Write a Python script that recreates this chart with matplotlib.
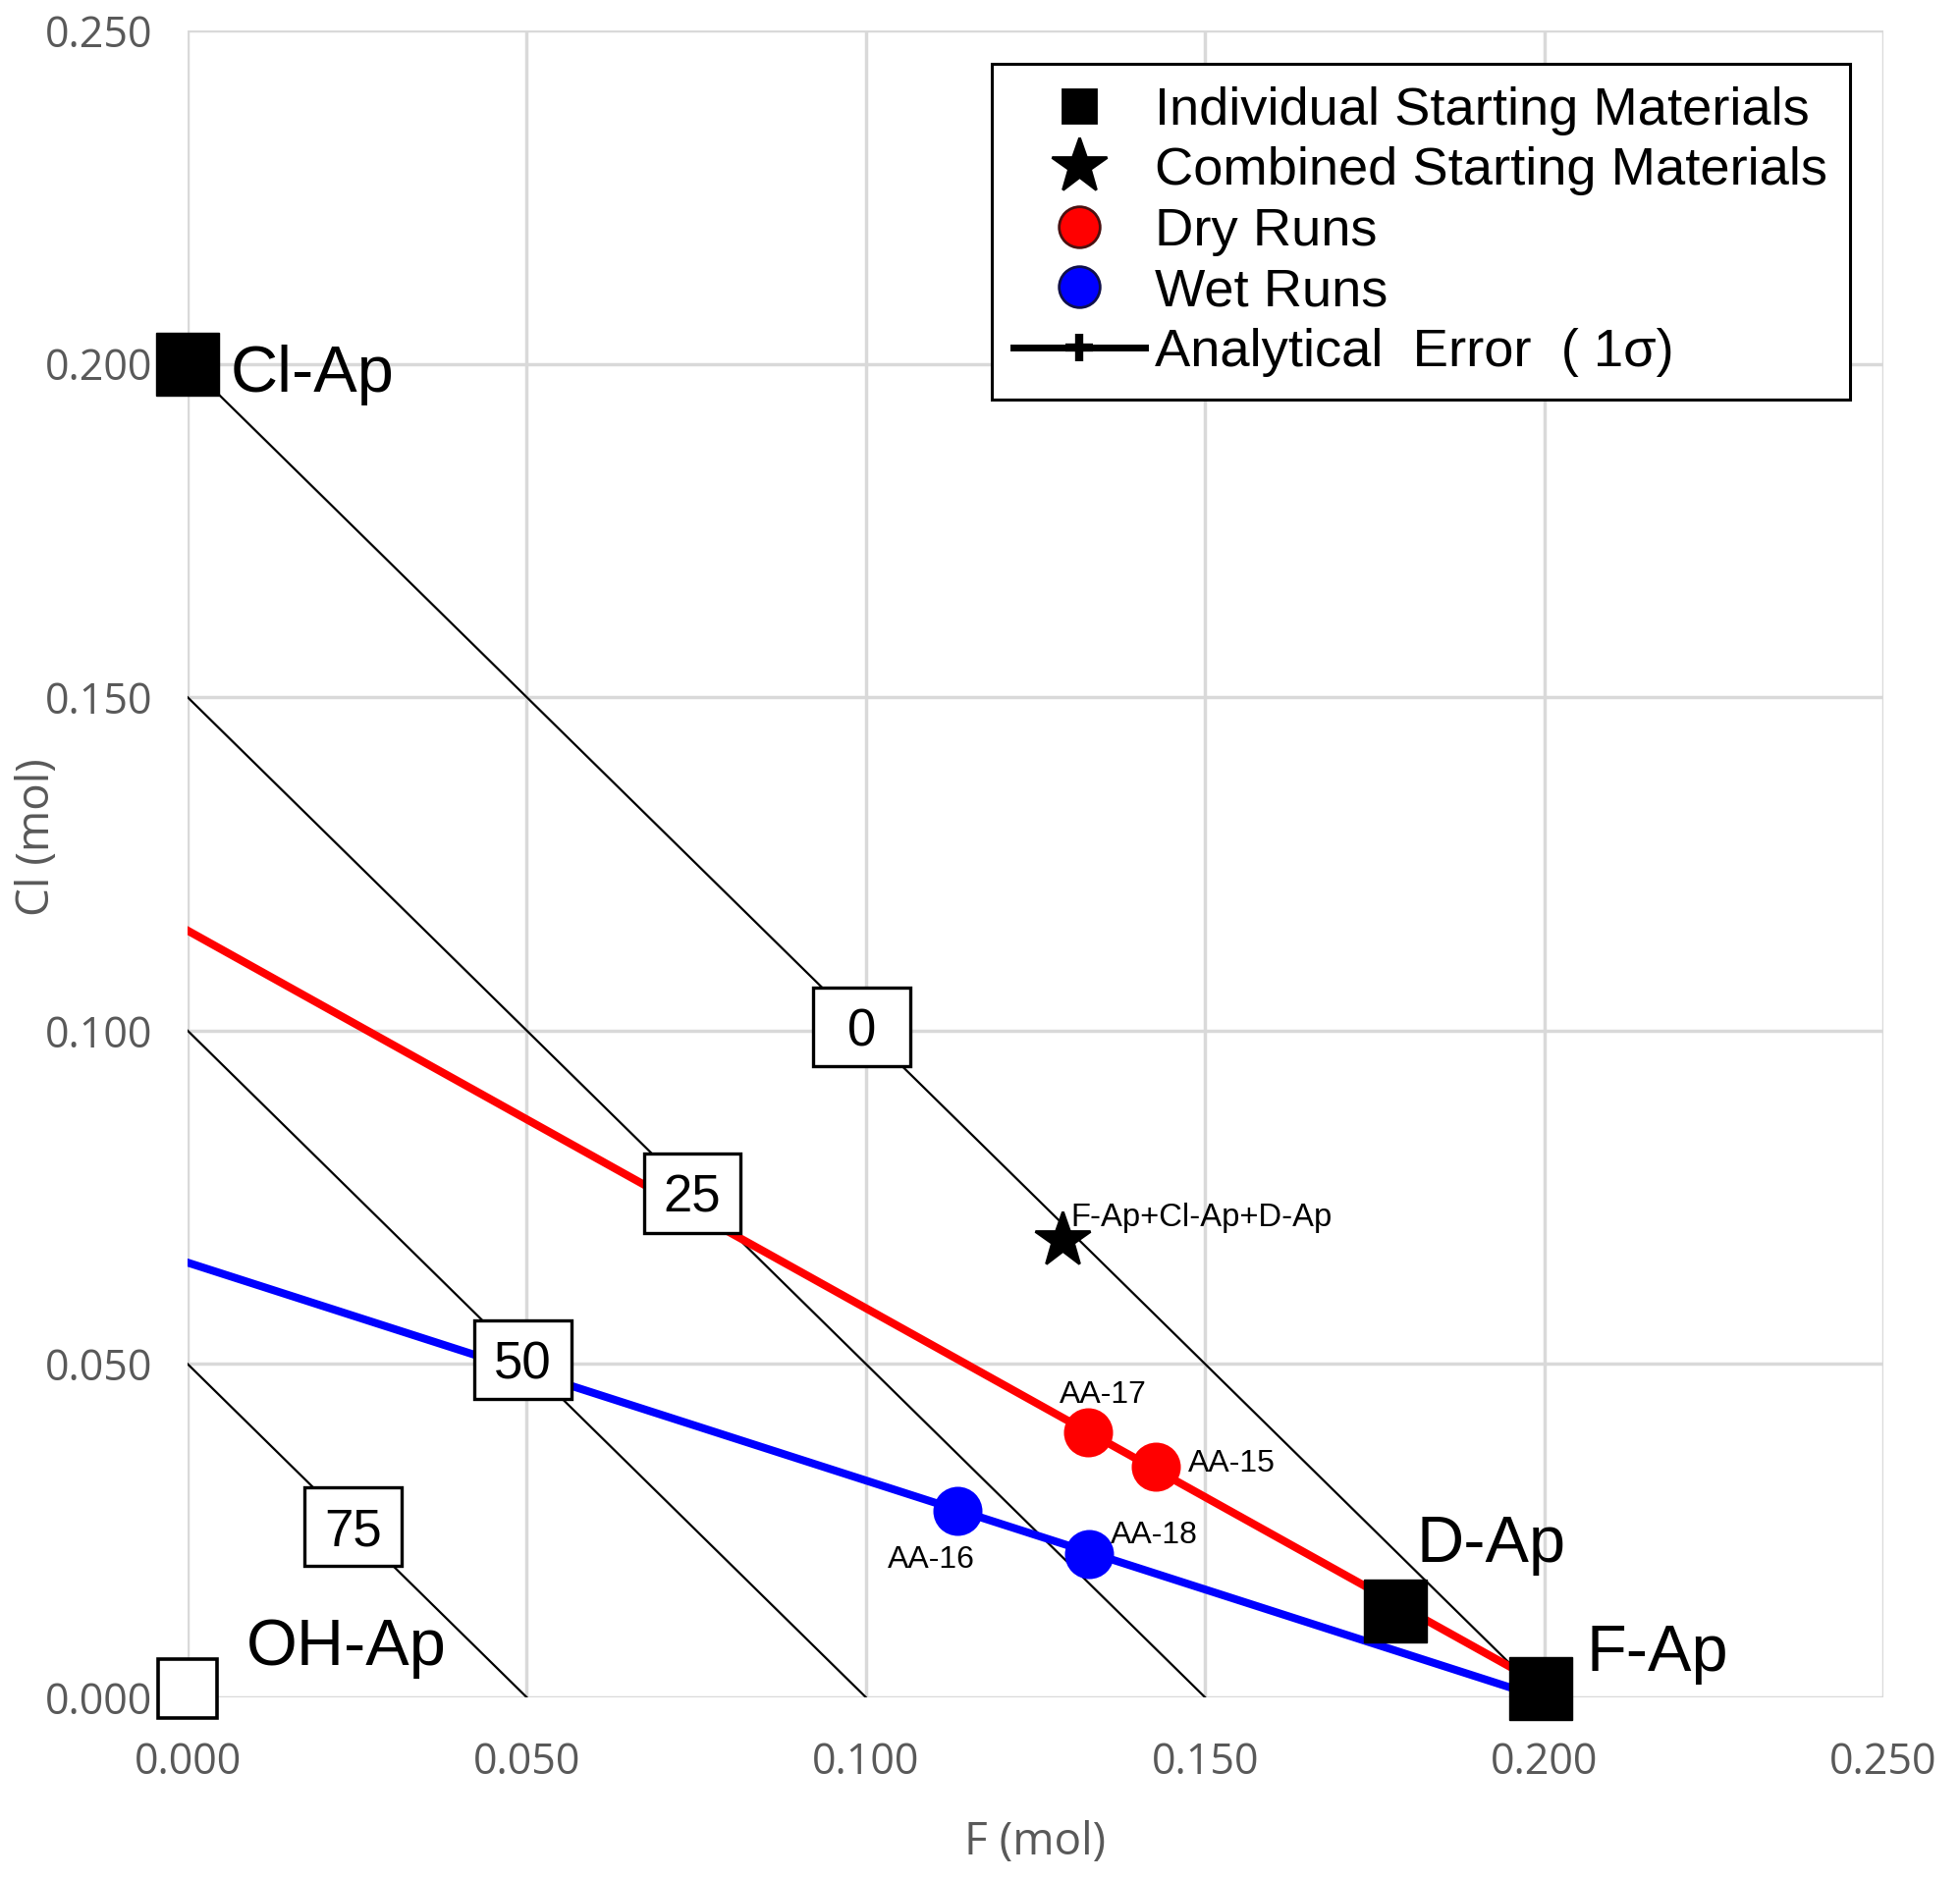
import numpy as np
import matplotlib
matplotlib.use('Agg')
import matplotlib.pyplot as plt
from matplotlib.lines import Line2D
from matplotlib.patches import Rectangle

# end-member and run compositions (mol)
individual_names = ['Cl-Ap', 'D-Ap', 'F-Ap']
individual_f = [0.000, 0.178, 0.1995]
individual_cl = [0.200, 0.013, 0.0013]

oh_name = 'OH-Ap'
oh_f = [0.000]
oh_cl = [0.0013]

combined_name = 'F-Ap+Cl-Ap+D-Ap'
combined_f = [0.129]
combined_cl = [0.0686]

dry_names = ['AA-17', 'AA-15']
dry_f = [0.1327, 0.1427]
dry_cl = [0.0398, 0.0346]

wet_names = ['AA-16', 'AA-18']
wet_f = [0.1135, 0.1329]
wet_cl = [0.0280, 0.0215]

# trend lines through the runs
dry_trend_f = [0.000, 0.1995]
dry_trend_cl = [0.115, 0.002]
wet_trend_f = [0.000, 0.1995]
wet_trend_cl = [0.0652, 0.000]

# OH isopleths (F + Cl = const)
iso_labels = ['0', '25', '50', '75']
iso_sum = [0.200, 0.150, 0.100, 0.050]

ticks = [0.000, 0.050, 0.100, 0.150, 0.200, 0.250]

ARIAL = 'Liberation Sans'
GREY = '#595959'

fig = plt.figure(figsize=(9.98, 9.57), dpi=200)
ax = fig.add_axes([0.0957, 0.0967, 0.8652, 0.8871])

ax.set_xlim(0, 0.25)
ax.set_ylim(0, 0.25)
ax.set_xticks(ticks)
ax.set_yticks(ticks)
ax.set_xticklabels(['%.3f' % t for t in ticks])
ax.set_yticklabels(['%.3f' % t for t in ticks])
for s in ax.spines.values():
    s.set_visible(False)
ax.grid(True, color='#d9d9d9', lw=1.25, zorder=0)
ax.set_axisbelow(True)
ax.tick_params(length=0, colors=GREY, labelsize=15.5)
ax.tick_params(axis='x', pad=16)
ax.tick_params(axis='y', pad=13)
for lab in ax.get_xticklabels() + ax.get_yticklabels():
    lab.set_family('Open Sans')

ax.set_xlabel('F (mol)', fontsize=16.5, color=GREY, family='Open Sans')
ax.set_ylabel('Cl (mol)', fontsize=16.5, color=GREY, family='Open Sans')
ax.xaxis.label.set_va('center')
ax.yaxis.label.set_va('center')
ax.xaxis.set_label_coords(0.5, -0.0872)
ax.yaxis.set_label_coords(-0.0886, 0.516)

# isopleths with fixed-size boxed labels at their midpoints
box_w, box_h = 0.0143, 0.0118
for lab, s in zip(iso_labels, iso_sum):
    ax.plot([0, s], [s, 0], color='k', lw=0.8, zorder=2)
    ax.add_patch(Rectangle((s / 2 - box_w / 2 - 0.0006, s / 2 - box_h / 2 + 0.0006),
                           box_w, box_h, fc='white', ec='k', lw=1.2, zorder=8))
    ax.text(s / 2 - 0.0006, s / 2 + 0.0006, lab, ha='center',
            va='center_baseline', fontsize=19, family=ARIAL, zorder=9)

ax.plot(dry_trend_f, dry_trend_cl, color='#ff0000', lw=2.9, zorder=3)
ax.plot(wet_trend_f, wet_trend_cl, color='#0000ff', lw=2.9, zorder=3)

ax.plot(individual_f, individual_cl, 's', color='k', ms=23, mew=0.5,
        clip_on=False, zorder=5)
ax.plot(oh_f, oh_cl, 's', mfc='white', mec='k', ms=21.7, mew=1.3,
        clip_on=False, zorder=5)
ax.plot(combined_f, combined_cl, '*', color='k', ms=21, zorder=5)
ax.plot(dry_f, dry_cl, 'o', color='#ff0000', ms=17, zorder=5)
ax.plot(wet_f, wet_cl, 'o', color='#0000ff', ms=17, zorder=5)

# labels
big_off = {'Cl-Ap': (15.8, -10.4), 'D-Ap': (7.9, 18), 'F-Ap': (16.6, 6.5)}
for name, x, y in zip(individual_names, individual_f, individual_cl):
    ax.annotate(name, (x, y), xytext=big_off[name], textcoords='offset points',
                ha='left', va='baseline', fontsize=24, family=ARIAL,
                annotation_clip=False, zorder=9)
ax.annotate(oh_name, (oh_f[0], oh_cl[0]), xytext=(21.5, 8.6),
            textcoords='offset points', ha='left', va='baseline',
            fontsize=24, family=ARIAL, annotation_clip=False, zorder=9)
ax.annotate(combined_name, (combined_f[0], combined_cl[0]), xytext=(3, 5),
            textcoords='offset points', ha='left', va='baseline',
            fontsize=11.8, family=ARIAL, zorder=9)

small_off = {'AA-17': (5.8, 10.8, 'center'), 'AA-15': (11.9, -2, 'left'),
             'AA-16': (-9.7, -21, 'center'), 'AA-18': (8, 4, 'left')}
for name, x, y in zip(dry_names + wet_names, dry_f + wet_f, dry_cl + wet_cl):
    dx, dy, ha = small_off[name]
    ax.annotate(name, (x, y), xytext=(dx, dy), textcoords='offset points',
                ha=ha, va='baseline', fontsize=11.5, family=ARIAL, zorder=9)

handles = [
    Line2D([], [], ls='none', marker='s', color='k', ms=12),
    Line2D([], [], ls='none', marker='*', color='k', ms=21),
    Line2D([], [], ls='none', marker='o', mfc='#ff0000', mec='#4a1010', ms=15),
    Line2D([], [], ls='none', marker='o', mfc='#0000ff', mec='#10104a', ms=15),
    Line2D([], [], color='k', lw=2.5, marker='+', ms=10, mew=3),
]
labels = ['Individual Starting Materials', 'Combined Starting Materials',
          'Dry Runs', 'Wet Runs', 'Analytical  Error  ( 1σ)']
leg = ax.legend(handles, labels, loc='upper right',
                bbox_to_anchor=(0.9439, 0.966), bbox_transform=fig.transFigure,
                prop={'family': ARIAL, 'size': 19.6}, frameon=True,
                fancybox=False, edgecolor='k', framealpha=1,
                borderpad=0.42, labelspacing=0.21, handlelength=2.45,
                handletextpad=0.19, borderaxespad=0)
leg.get_frame().set_linewidth(1.1)
leg.set_zorder(10)

fig.savefig('out.png', dpi=200)
